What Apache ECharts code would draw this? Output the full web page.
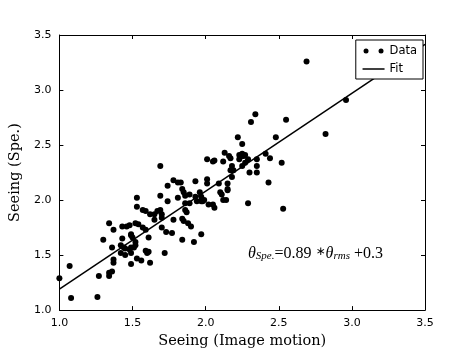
<!DOCTYPE html>
<html>
<head>
<meta charset="utf-8">
<script src="https://cdn.jsdelivr.net/npm/echarts@6/dist/echarts.min.js"></script>
<style>
  html, body { margin: 0; padding: 0; background: #fff; }
  #chart { width: 472px; height: 354px; }
</style>
</head>
<body>
<div id="chart"></div>
<script>
// seeing from image motion (x) vs spectroscopic seeing (y)
var seeingImage = [
  1.69, 2.01, 2.05, 2.06, 2.12, 2.17, 2.18, 2.19, 2.17, 2.23,
  2.25, 2.27, 2.29, 2.30, 2.18, 1.78, 1.81, 1.83, 1.74, 1.93,
  2.01, 2.01, 2.09, 2.15, 2.15, 1.84, 1.85, 1.86, 1.89, 1.93,
  1.96, 1.97, 2.10, 2.11, 2.15, 1.81, 1.74, 1.69, 1.53, 1.53,
  1.57, 1.59, 1.62, 1.65, 1.67, 1.69, 1.70, 1.65, 1.70, 1.86,
  1.89, 1.94, 1.97, 1.98, 1.99, 2.02, 2.05, 2.06, 2.12, 2.14,
  2.29, 1.87, 1.86, 1.84, 1.85, 1.88, 1.90, 1.78, 1.70, 1.73,
  1.77, 1.97, 1.84, 1.92, 1.34, 1.37, 1.43, 1.46, 1.48, 1.52,
  1.54, 1.57, 1.59, 1.49, 1.49, 1.50, 1.30, 1.43, 1.61, 1.52,
  1.52, 1.51, 1.49, 1.36, 1.42, 1.44, 1.45, 1.48, 1.49, 1.59,
  1.61, 1.60, 1.42, 1.45, 1.37, 1.37, 1.53, 1.56, 1.62, 1.49,
  1.72, 1.34, 1.34, 1.36, 1.27, 1.00, 1.07, 1.08, 1.26, 2.22,
  2.25, 2.31, 2.34, 2.48, 2.55, 2.82, 2.96, 2.69, 2.13, 2.16,
  2.23, 2.25, 2.26, 2.27, 2.35, 2.35, 2.35, 2.41, 2.44, 2.52,
  2.43, 2.53, 2.25
];
var seeingSpe = [
  2.31, 2.37, 2.35, 2.36, 2.35, 2.38, 2.31, 2.27, 2.27, 2.37,
  2.40, 2.34, 2.37, 2.25, 2.21, 2.18, 2.16, 2.16, 2.13, 2.17,
  2.19, 2.15, 2.15, 2.15, 2.10, 2.10, 2.07, 2.04, 2.05, 2.03,
  2.07, 2.03, 2.07, 2.05, 2.09, 2.02, 1.99, 2.04, 2.02, 1.94,
  1.91, 1.90, 1.87, 1.87, 1.90, 1.91, 1.87, 1.82, 1.84, 1.97,
  1.97, 1.99, 1.99, 1.99, 2.00, 1.96, 1.96, 1.93, 2.00, 2.00,
  1.97, 1.89, 1.91, 1.83, 1.81, 1.79, 1.76, 1.82, 1.75, 1.71,
  1.70, 1.69, 1.64, 1.62, 1.79, 1.73, 1.76, 1.76, 1.77, 1.79,
  1.78, 1.75, 1.73, 1.69, 1.68, 1.66, 1.64, 1.65, 1.66, 1.62,
  1.59, 1.57, 1.57, 1.57, 1.59, 1.57, 1.56, 1.55, 1.52, 1.54,
  1.53, 1.52, 1.52, 1.50, 1.46, 1.43, 1.47, 1.45, 1.43, 1.42,
  1.52, 1.34, 1.31, 1.35, 1.31, 1.29, 1.40, 1.11, 1.12, 2.57,
  2.51, 2.71, 2.78, 2.57, 2.73, 2.60, 2.91, 3.26, 2.43, 2.40,
  2.41, 2.42, 2.40, 2.41, 2.37, 2.31, 2.25, 2.42, 2.38, 2.34,
  2.16, 1.92, 2.31
];
// fitted line theta_Spe = 0.89 * theta_rms + 0.3, end points
var fitX = [1.0, 3.5];
var fitY = [1.19, 3.415];
var axisTicks = [1.0, 3.5, 0.5]; // min, max, interval

var points = seeingImage.map(function (x, i) { return [x, seeingSpe[i]]; });
var fitLine = fitX.map(function (x, i) { return [x, fitY[i]]; });

var tickFont = { color: '#000', fontSize: 11, fontFamily: 'DejaVu Sans' };
var nameFont = { color: '#000', fontSize: 14.5, fontFamily: 'DejaVu Serif' };

function makeAxis(extra) {
  var base = {
    type: 'value',
    min: axisTicks[0],
    max: axisTicks[1],
    interval: axisTicks[2],
    splitLine: { show: false },
    axisLine: { show: true, onZero: false, lineStyle: { color: '#000', width: 1 } },
    axisTick: { show: true, inside: true, length: 4, lineStyle: { color: '#000' } },
    axisLabel: {
      show: true,
      formatter: function (v) { return v.toFixed(1); },
      color: tickFont.color, fontSize: tickFont.fontSize, fontFamily: tickFont.fontFamily
    }
  };
  for (var k in extra) base[k] = extra[k];
  return base;
}

// two dots, matplotlib style legend marker
var twoDots = 'path://M0 2.5A2.5 2.5 0 1 0 5 2.5A2.5 2.5 0 1 0 0 2.5Z' +
              'M15 2.5A2.5 2.5 0 1 0 20 2.5A2.5 2.5 0 1 0 15 2.5Z';

var chart = echarts.init(document.getElementById('chart'));

var option = {
  animation: false,
  backgroundColor: '#fff',
  grid: { left: 59, right: 47, top: 35, bottom: 36 },
  xAxis: [
    makeAxis({
      position: 'bottom',
      name: 'Seeing (Image motion)',
      nameLocation: 'middle',
      nameGap: 18,
      nameTextStyle: nameFont
    }),
    makeAxis({ position: 'top', axisLabel: { show: false } })
  ],
  yAxis: [
    makeAxis({
      position: 'left',
      name: 'Seeing (Spe.)',
      nameLocation: 'middle',
      nameGap: 36,
      nameTextStyle: nameFont
    }),
    makeAxis({ position: 'right', axisLabel: { show: false } })
  ],
  legend: {
    orient: 'vertical',
    right: 49,
    top: 40,
    itemWidth: 22,
    itemHeight: 5,
    itemGap: 6,
    padding: [5, 6, 4, 6],
    backgroundColor: '#fff',
    borderColor: '#000',
    borderWidth: 1,
    borderRadius: 0,
    selectedMode: false,
    textStyle: { color: '#000', fontSize: 11.5, fontFamily: 'DejaVu Sans' },
    data: [
      { name: 'Data', icon: twoDots, itemStyle: { color: '#000', opacity: 1 } },
      { name: 'Fit', itemStyle: { opacity: 0 }, lineStyle: { color: '#000', width: 1.5 } }
    ]
  },
  graphic: [
    {
      type: 'text',
      left: 248,
      top: 246,
      z: 10,
      style: {
        text: '{m|θ}{s|Spe.}{n|=0.89 }{o|∗}{m|θ}{s|rms}{n| +0.3}',
        rich: {
          m: { fontSize: 16, fontStyle: 'italic', fontFamily: 'Liberation Serif', fill: '#000', lineHeight: 16, verticalAlign: 'bottom' },
          n: { fontSize: 16, fontFamily: 'Liberation Serif', fill: '#000', lineHeight: 16, verticalAlign: 'bottom' },
          o: { fontSize: 12, fontFamily: 'DejaVu Sans', fill: '#000', lineHeight: 16, padding: [0, 0, 4, 0], verticalAlign: 'bottom' },
          s: { fontSize: 11, fontStyle: 'italic', fontFamily: 'Liberation Serif', fill: '#000', lineHeight: 8, verticalAlign: 'bottom' }
        }
      }
    }
  ],
  series: [
    {
      name: 'Data',
      type: 'scatter',
      xAxisIndex: 0,
      yAxisIndex: 0,
      symbol: 'circle',
      symbolSize: 6,
      itemStyle: { color: '#000', opacity: 1 },
      data: points,
      z: 3
    },
    {
      name: 'Fit',
      type: 'line',
      xAxisIndex: 0,
      yAxisIndex: 0,
      symbol: 'none',
      showSymbol: false,
      lineStyle: { color: '#000', width: 1.5 },
      itemStyle: { color: '#000' },
      data: fitLine,
      z: 2
    }
  ]
};

chart.setOption(option);
</script>
</body>
</html>
